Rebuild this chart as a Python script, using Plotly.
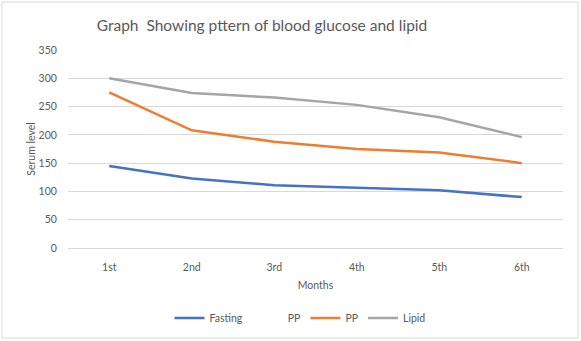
import plotly.graph_objects as go

months = ["1st", "2nd", "3rd", "4th", "5th", "6th"]
fasting = [145, 123, 111, 106, 102, 90]
pp = [275, 208, 188, 175, 169, 150]
lipid = [300, 274, 266, 253, 231, 196]

series_names = ["Fasting", "PP", "PP", "Lipid"]
colors = ["#4472C4", "#ED7D31", "#A5A5A5"]

FONT = "Lato, Open Sans, sans-serif"
TXT = "#595959"

fig = go.Figure()
fig.add_trace(go.Scatter(x=months, y=fasting, mode="lines", name=series_names[0],
                         line=dict(color=colors[0], width=2.5)))
fig.add_trace(go.Scatter(x=months, y=[None]*6, mode="lines", name=series_names[1],
                         line=dict(color="rgba(0,0,0,0)", width=2.5)))
fig.add_trace(go.Scatter(x=months, y=pp, mode="lines", name=series_names[2],
                         line=dict(color=colors[1], width=2.5)))
fig.add_trace(go.Scatter(x=months, y=lipid, mode="lines", name=series_names[3],
                         line=dict(color=colors[2], width=2.5)))

fig.update_layout(
    width=581, height=341,
    margin=dict(l=68, r=18, t=50, b=93),
    paper_bgcolor="white", plot_bgcolor="white",
    font=dict(family=FONT, color=TXT, size=10),
    title=dict(text="Graph  Showing pttern of blood glucose and lipid",
               x=262/581, xanchor="center", y=1 - 26/341, yanchor="middle",
               font=dict(size=15.5, color=TXT, family=FONT)),
    xaxis=dict(range=[-0.5, 5.5], showgrid=False, showline=False, automargin=False,
               ticks="outside", ticklen=9, tickcolor="rgba(0,0,0,0)",
               tickfont=dict(size=10.5, color=TXT),
               title=dict(text="Months", font=dict(size=10.5, color=TXT), standoff=10)),
    yaxis=dict(range=[0, 350], dtick=50, showgrid=True, gridcolor="#D9D9D9", gridwidth=1,
               zeroline=True, zerolinecolor="#D9D9D9", zerolinewidth=1, showline=False,
               automargin=False,
               ticks="outside", ticklen=8, tickcolor="rgba(0,0,0,0)",
               tickfont=dict(size=10.5, color=TXT),
               title=dict(text="Serum level", font=dict(size=10.5, color=TXT), standoff=0)),
    legend=dict(orientation="h", x=(300-68)/495, xanchor="center",
                yref="container", y=1 - 318/341, yanchor="middle",
                font=dict(size=10.5, color=TXT), itemwidth=30, tracegroupgap=0),
    showlegend=True,
    shapes=[dict(type="rect", xref="paper", yref="paper",
                 x0=(2-68)/495, x1=(578-68)/495, y0=(248-338)/198, y1=(248-2)/198,
                 line=dict(color="#D9D9D9", width=1), fillcolor="rgba(0,0,0,0)", layer="below")],
)

fig.write_html("out.html")
